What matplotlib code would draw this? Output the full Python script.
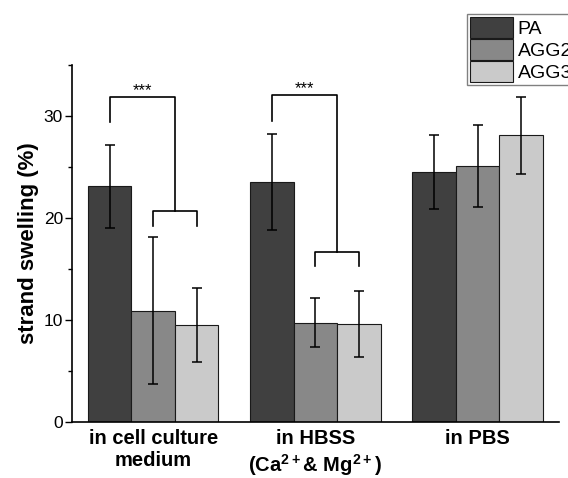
import matplotlib
matplotlib.use("Agg")
import matplotlib.pyplot as plt
import numpy as np
from matplotlib.ticker import MultipleLocator

plt.rcParams["font.family"] = ["Liberation Sans", "DejaVu Sans"]
plt.rcParams["mathtext.fontset"] = "custom"
plt.rcParams["mathtext.rm"] = "Liberation Sans:bold"
plt.rcParams["mathtext.bf"] = "Liberation Sans:bold"

groups = ["in cell culture\nmedium", "in HBSS\n(Ca$^{2+}$& Mg$^{2+}$)", "in PBS"]
series = ["PA", "AGG2", "AGG3"]
means = {
    "PA":   [23.1, 23.5, 24.5],
    "AGG2": [10.9, 9.75, 25.1],
    "AGG3": [9.5, 9.6, 28.1],
}
errors = {
    "PA":   [4.1, 4.7, 3.6],
    "AGG2": [7.2, 2.4, 4.0],
    "AGG3": [3.6, 3.25, 3.8],
}
colors = {"PA": "#404040", "AGG2": "#888888", "AGG3": "#cacaca"}

# significance brackets: group index, top level, left leg end, right leg end, lower level, lower legs end
brackets = [
    (0, 31.9, 29.4, 20.7, 19.2),
    (1, 32.1, 29.5, 16.65, 15.3),
]

fig = plt.figure(figsize=(5.68, 4.78), dpi=100)
ax = fig.add_axes([0.1268, 0.1172, 0.857, 0.7468])

x = np.arange(len(groups))
w = 0.268
handles = []
for i, s in enumerate(series):
    pos = x + (i - 1) * w
    b = ax.bar(pos, means[s], width=w, color=colors[s], edgecolor="#1a1a1a",
               linewidth=0.8, label=s, zorder=2)
    ax.errorbar(pos, means[s], yerr=errors[s], fmt="none", ecolor="black",
                elinewidth=1.1, capsize=3.5, capthick=1.1, zorder=3)
    handles.append(b)

lw = 1.2
for g, top, left_end, mid, low_end in brackets:
    xl = g - w
    xr = g + w / 2
    ax.plot([xl, xl, xr, xr], [left_end, top, top, mid], color="black", lw=lw, zorder=4)
    ax.plot([g, g, g + w, g + w], [low_end, mid, mid, low_end], color="black", lw=lw, zorder=4)
    ax.text((xl + xr) / 2, top - 0.15, "***", ha="center", va="bottom", fontsize=12)

ax.set_xlim(-0.5, 2.5)
ax.set_ylim(0, 35)
ax.yaxis.set_major_locator(MultipleLocator(10))
ax.yaxis.set_minor_locator(MultipleLocator(5))
ax.tick_params(axis="y", which="major", direction="out", length=5, width=1, pad=1.5, labelsize=12.5)
ax.tick_params(axis="y", which="minor", direction="out", length=3, width=1)
ax.set_xticks(x)
ax.set_xticklabels(groups, fontsize=14.5, fontweight="bold", linespacing=1.2)
ax.tick_params(axis="x", length=0, pad=5)

for side in ["top", "right"]:
    ax.spines[side].set_visible(False)
ax.spines["left"].set_linewidth(1.2)
ax.spines["bottom"].set_linewidth(1.2)

ax.set_ylabel("strand swelling (%)", fontsize=16, fontweight="bold", labelpad=3)

leg = fig.legend(handles=handles, labels=series, loc="upper left",
                 bbox_to_anchor=(467 / 568, 1 - 14 / 478), fontsize=14,
                 handlelength=2.2, handleheight=1.3, labelspacing=0.05,
                 handletextpad=0.25, borderpad=0.15, borderaxespad=0,
                 fancybox=False, framealpha=1, edgecolor="#808080")
leg.get_frame().set_linewidth(1.0)

fig.savefig("out.png", dpi=100)
